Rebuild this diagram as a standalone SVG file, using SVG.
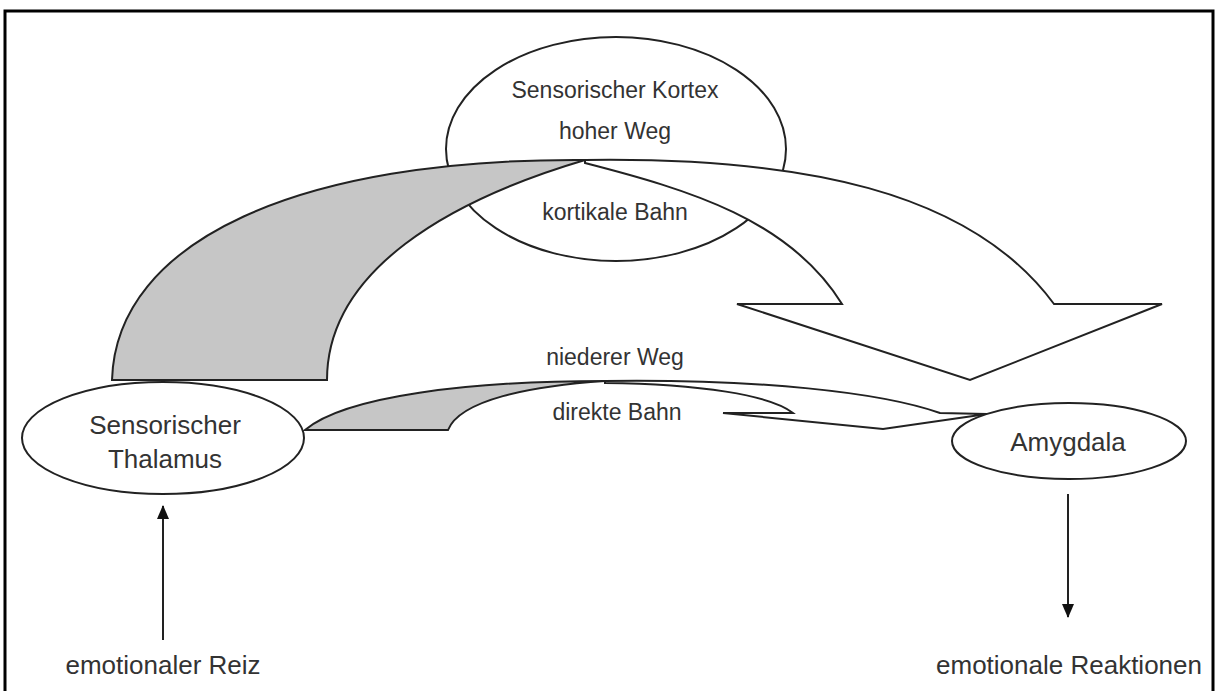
<svg xmlns="http://www.w3.org/2000/svg" width="1217" height="691" viewBox="0 0 1217 691">
<defs>
<marker id="ah" viewBox="0 0 14 12" refX="13" refY="6" markerWidth="14" markerHeight="12" markerUnits="userSpaceOnUse" orient="auto">
<path d="M0,0 L14,6 L0,12 z" fill="#111"/>
</marker>
</defs>
<style>
.ln{fill:none;stroke:#222;stroke-width:2}
.nd{fill:#fff;stroke:#222;stroke-width:2}
.gr{fill:#c6c6c6;stroke:#222;stroke-width:2;stroke-linejoin:miter}
.wh{fill:#fff;stroke:#222;stroke-width:2;stroke-linejoin:miter}
.t{font-family:"Liberation Sans",Arial,sans-serif;font-size:23px;fill:#333;text-anchor:middle}
.tb{font-size:26px}
</style>
<rect x="0" y="0" width="1217" height="691" fill="#fff"/>
<rect id="frame" x="5" y="11" width="1208" height="700" fill="none" stroke="#000" stroke-width="3"/>

<g id="kortex">
<ellipse class="nd" cx="616" cy="149" rx="170" ry="112"/>
<text class="t" x="615" y="98">Sensorischer Kortex</text>
<text class="t" x="615" y="139">hoher Weg</text>
</g>

<g id="connectors">
<g id="hoher-weg">
<path class="wh" d="M585,160 C800,157 970,190 1054,304 L1162,304 L970,380 L737,304 L842,304 C790,220 690,190 585,163 Z"/>
<path class="gr" d="M112,380 C116,240 300,158 585,160 C450,200 327,270 327,380 Z"/>
</g>
<g id="niederer-weg">
<path class="wh" d="M605,381 C760,379 880,392 940,413 L987,414 L883,429 L723,413 L793,413 C770,395 700,384 605,383 Z"/>
<path class="gr" d="M305,430 C345,396 470,381 605,381 C530,386 460,400 448,430 Z"/>
</g>
<line class="ln" x1="163" y1="640" x2="163" y2="506" marker-end="url(#ah)"/>
<line class="ln" x1="1068" y1="494" x2="1068" y2="617" marker-end="url(#ah)"/>
</g>

<text class="t" x="615" y="220">kortikale Bahn</text>
<text class="t" x="615" y="365">niederer Weg</text>
<text class="t" x="617" y="420">direkte Bahn</text>

<g id="thalamus">
<ellipse class="nd" cx="163" cy="438" rx="141" ry="56"/>
<text class="t tb" x="165" y="434">Sensorischer</text>
<text class="t tb" x="165" y="468">Thalamus</text>
</g>

<g id="amygdala">
<ellipse class="nd" cx="1069" cy="441" rx="117" ry="38"/>
<text class="t tb" x="1068" y="451">Amygdala</text>
</g>

<g id="reiz">
<text class="t tb" x="163" y="674">emotionaler Reiz</text>
</g>
<g id="reaktionen">
<text class="t tb" x="1069" y="674">emotionale Reaktionen</text>
</g>
</svg>
